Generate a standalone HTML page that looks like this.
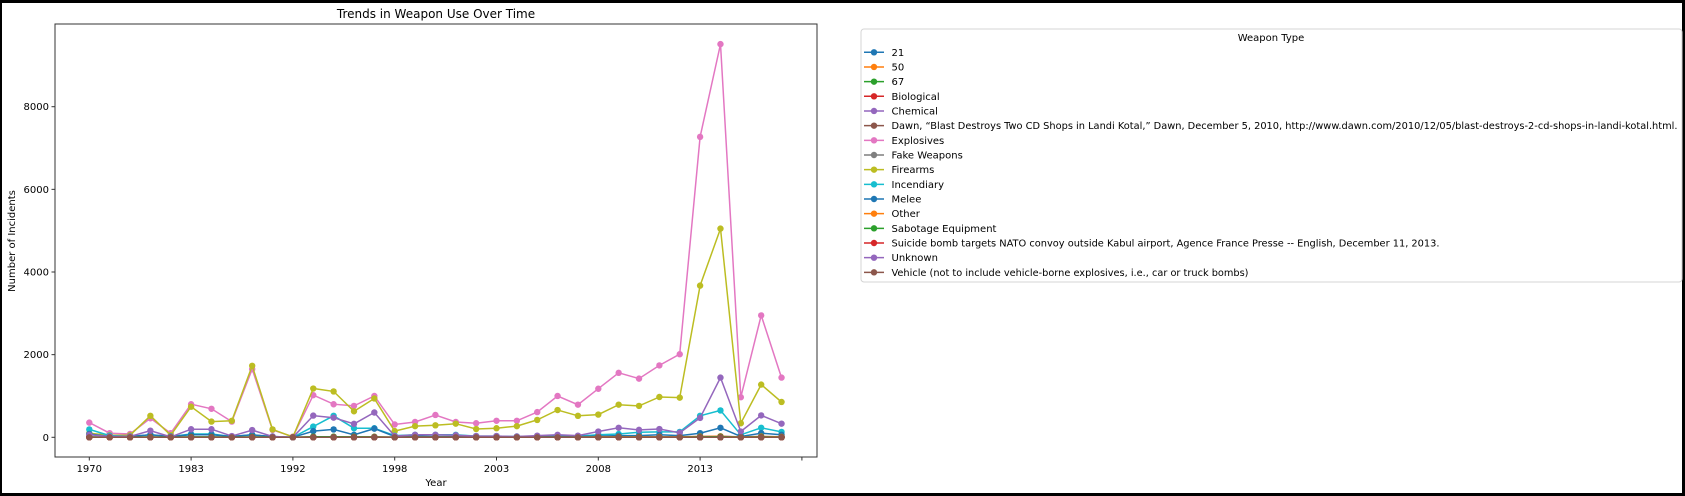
<!DOCTYPE html>
<html><head><meta charset="utf-8"><style>
html,body{margin:0;padding:0;background:#000;}
svg{display:block;font-family:"DejaVu Sans","Liberation Sans",sans-serif;}
</style></head><body>
<svg width="1685" height="496" viewBox="0 0 1685 496" xmlns="http://www.w3.org/2000/svg">
<rect x="2" y="3" width="1680" height="490" fill="#fff"/>
<g id="plot"></g>
<rect x="55" y="24" width="762" height="433" fill="none" stroke="#333" stroke-width="1"/>
<text x="436" y="18" font-size="12" text-anchor="middle">Trends in Weapon Use Over Time</text>
<text x="436" y="486" font-size="10" text-anchor="middle">Year</text>
<text transform="translate(15,241) rotate(-90)" font-size="10" text-anchor="middle">Number of Incidents</text>
<g id="xticks"></g>
<g id="yticks"></g>
<g id="legend">
<rect x="861" y="29" width="821" height="253" rx="3" fill="#fff" stroke="#d4d4d4"/>
<text x="1271" y="41" font-size="10" text-anchor="middle">Weapon Type</text>
</g>
</svg>
<script>
const years = ["1970","1973","1976","1979","1981","1983","1984","1986","1988","1990","1992","1994","1995","1996","1997","1998","1999","2000","2001","2002","2003","2004","2005","2006","2007","2008","2009","2010","2011","2012","2013","2014","2015","2016","2017"];
const seriesNames = ["21","50","67","Biological","Chemical","Dawn, \u201cBlast Destroys Two CD Shops in Landi Kotal,\u201d Dawn, December 5, 2010, http://www.dawn.com/2010/12/05/blast-destroys-2-cd-shops-in-landi-kotal.html.","Explosives","Fake Weapons","Firearms","Incendiary","Melee","Other","Sabotage Equipment","Suicide bomb targets NATO convoy outside Kabul airport, Agence France Presse -- English, December 11, 2013.","Unknown","Vehicle (not to include vehicle-borne explosives, i.e., car or truck bombs)"];
const colors = ["#1f77b4","#ff7f0e","#2ca02c","#d62728","#9467bd","#8c564b","#e377c2","#7f7f7f","#bcbd22","#17becf","#1f77b4","#ff7f0e","#2ca02c","#d62728","#9467bd","#8c564b"];
const yTicks = [0,2000,4000,6000,8000];
const zeros = [0,0,0,0,0,0,0,0,0,0,0,0,0,0,0,0,0,0,0,0,0,0,0,0,0,0,0,0,0,0,0,0,0,0,0];
const explosives = [355,100,80,460,100,800,690,380,1650,180,15,1020,800,760,1000,310,370,540,370,340,400,400,610,1000,790,1175,1560,1420,1740,2010,7270,9515,970,2950,1445];
const firearms = [100,50,50,520,50,740,380,400,1730,190,10,1180,1110,630,940,150,270,290,330,200,220,270,420,660,520,550,790,760,975,960,3670,5050,340,1275,855];
const unknown = [60,20,20,160,10,195,195,30,175,20,0,525,475,325,600,30,60,60,50,30,30,20,40,60,40,140,230,180,200,110,470,1445,140,530,330];
const incendiary = [190,40,20,60,20,80,80,20,60,10,0,260,520,220,220,40,60,60,60,30,30,20,30,40,30,60,80,120,130,130,520,650,60,230,130];
const melee = [80,20,20,60,20,60,60,20,60,20,0,150,190,60,210,20,30,20,20,10,10,10,20,20,20,30,40,40,60,40,100,230,20,100,60];
const chemical = [5,0,0,5,0,5,5,0,5,0,0,10,10,5,10,5,5,5,5,5,5,5,10,10,10,15,20,15,15,15,20,25,10,20,15];
const sabotage = [10,5,5,10,5,10,10,5,10,5,0,15,15,10,10,5,5,5,5,5,5,5,5,5,5,5,5,5,5,5,10,15,5,10,5];
const other = [5,0,0,5,0,5,5,0,5,0,0,10,10,10,10,5,5,5,5,5,5,5,5,5,5,10,10,10,10,10,20,25,5,20,10];
const seriesValues = [zeros,zeros,zeros,zeros,chemical,zeros,explosives,zeros,firearms,incendiary,melee,other,sabotage,zeros,unknown,zeros];

const NS="http://www.w3.org/2000/svg";
const x0=89.3, step=20.36, yZero=437.3, yPer=82.65/2000;
function xs(i){return x0+i*step;}
function ys(v){return yZero-v*yPer;}
function mk(tag,attrs,parent){const e=document.createElementNS(NS,tag);for(const k in attrs)e.setAttribute(k,attrs[k]);parent.appendChild(e);return e;}

const plot=document.getElementById('plot');
seriesValues.forEach((vals,s)=>{
  const g=mk('g',{},plot);
  
  
  const pts=vals.map((v,i)=>xs(i).toFixed(1)+','+ys(v).toFixed(1)).join(' ');
  const pl=mk('polyline',{points:pts,fill:'none',stroke:colors[s],'stroke-width':1.5},g);
  
  
  vals.forEach((v,i)=>{
    const c=mk('circle',{cx:xs(i),cy:ys(v),r:3.2,fill:colors[s]},g);
    
    
  });
});

const xt=document.getElementById('xticks');
for(let i=0;i<=35;i+=5){
  const x=xs(i);
  const t=mk('line',{x1:x,x2:x,y1:457,y2:460.5,stroke:'#333'},xt);
  
  
  if(i<years.length){
    const l=mk('text',{x:x,y:472,'font-size':10,'text-anchor':'middle'},xt);
    l.textContent=years[i];
    
    
  }
}
const yt=document.getElementById('yticks');
yTicks.forEach(v=>{
  const y=ys(v);
  const t=mk('line',{x1:51.5,x2:55,y1:y,y2:y,stroke:'#333'},yt);
  
  
  const l=mk('text',{x:49,y:y+3.5,'font-size':10,'text-anchor':'end'},yt);
  l.textContent=v;
  
  
});

const lg=document.getElementById('legend');
seriesNames.forEach((n,s)=>{
  const y=52.3+s*14.67;
  const g=mk('g',{},lg);
  
  
  mk('line',{x1:864,x2:884,y1:y,y2:y,stroke:colors[s],'stroke-width':1.5},g);
  mk('circle',{cx:874,cy:y,r:3.2,fill:colors[s]},g);
  const t=mk('text',{x:891.5,y:y+3.5,'font-size':10},g);
  t.textContent=n;
  if(s===5){t.setAttribute('textLength','786');t.setAttribute('lengthAdjust','spacingAndGlyphs');}
  if(s===13){t.setAttribute('textLength','548');t.setAttribute('lengthAdjust','spacingAndGlyphs');}
  if(s===15){t.setAttribute('textLength','357');t.setAttribute('lengthAdjust','spacingAndGlyphs');}
});
</script>
</body></html>
